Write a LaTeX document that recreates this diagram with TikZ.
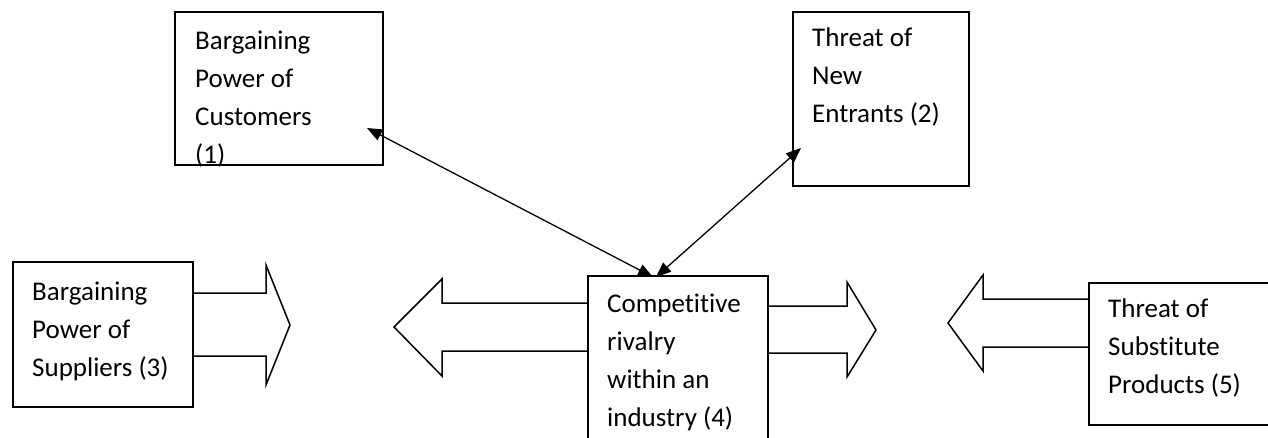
\documentclass[tikz,border=0pt]{standalone}
\usepackage{fontspec}
\setmainfont{Carlito}[Ligatures={NoCommon}]
\usetikzlibrary{arrows.meta}
\tikzset{
  box/.style={draw=black, line width=1.5pt, inner sep=0pt, anchor=north west, fill=none},
  label/.style={anchor=base west, inner sep=0pt, font=\fontsize{27}{38}\selectfont},
  blockarrow/.style={draw=black, line width=1.5pt, line join=miter},
  conn/.style={draw=black, line width=1.3pt, {Triangle[length=15pt,width=12pt]}-{Triangle[length=15pt,width=12pt]}, shorten <=0pt, shorten >=0pt}
}
\newcommand{\lines}[1]{\parbox[t]{300pt}{\raggedright #1}}
\begin{document}
\begin{tikzpicture}[x=1pt,y=-1pt]
\useasboundingbox (0,0) rectangle (1268,437);
\clip (0,0) rectangle (1268,437);
% boxes
\node[box, minimum width=208pt, minimum height=153pt] (b1) at (174,11) {};
\node[box, minimum width=176pt, minimum height=174pt] (b2) at (792,11) {};
\node[box, minimum width=180pt, minimum height=145pt] (b3) at (12,261) {};
\node[box, minimum width=180pt, minimum height=180pt] (b4) at (587,275) {};
\node[box, minimum width=200pt, minimum height=142pt] (b5) at (1088,282) {};
% texts
\node[label] (t1) at (195,49) {\lines{Bargaining\\Power of\\Customers\\(1)}};
\node[label] (t2) at (812,46) {\lines{Threat of\\New\\Entrants (2)}};
\node[label] (t3) at (32,300) {\lines{Bargaining\\Power of\\Suppliers (3)}};
\node[label] (t4) at (607,312) {\lines{Competitive\\rivalry\\within an\\industry (4)}};
\node[label] (t5) at (1108,317) {\lines{Threat of\\Substitute\\Products (5)}};
% block arrows
\draw[blockarrow] (192,293) -- (266,293) -- (266,265) -- (290,325) -- (266,385) -- (266,356) -- (192,356);
\draw[blockarrow] (587,303) -- (442,303) -- (442,279) -- (394,327) -- (442,376) -- (442,351) -- (587,351);
\draw[blockarrow] (767,306) -- (847,306) -- (847,282) -- (876,330) -- (847,377) -- (847,353) -- (767,353);
\draw[blockarrow] (1088,299) -- (983,299) -- (983,275) -- (948,323) -- (983,371) -- (983,347) -- (1088,347);
% connectors
\coordinate (c1) at (367,128);
\coordinate (c4a) at (653,277);
\coordinate (c4b) at (656,277);
\coordinate (c2) at (801,148);
\draw[conn] (c1) -- (c4a);
\draw[conn] (c2) -- (c4b);
\end{tikzpicture}
\end{document}
